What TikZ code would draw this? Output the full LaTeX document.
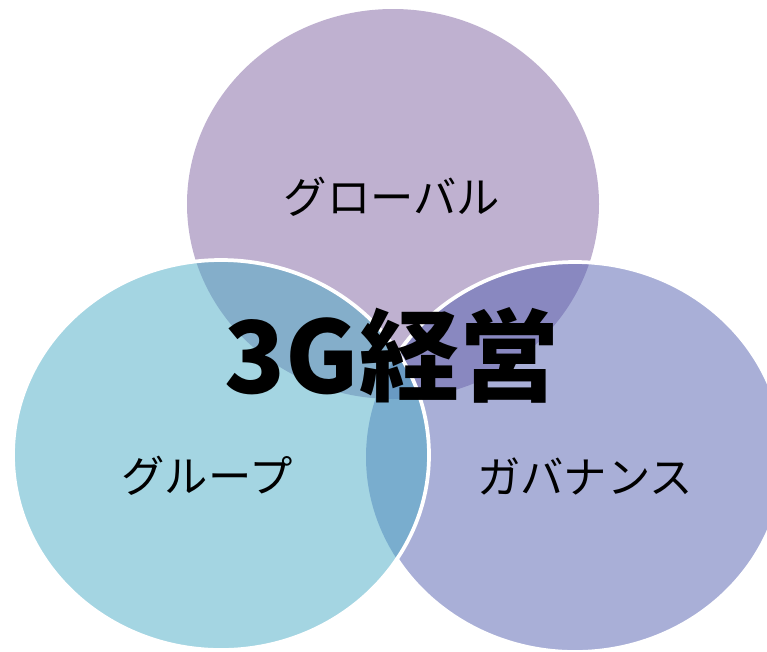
\documentclass[tikz,border=0pt]{standalone}
\usepackage{fontspec}
\newfontfamily\jp{Noto Sans CJK JP}
\definecolor{ctop}{RGB}{128,100,162}
\definecolor{cright}{RGB}{85,97,177}
\definecolor{cleft}{RGB}{75,172,198}
\begin{document}
\begin{tikzpicture}[x=0.75pt,y=-0.75pt,
  lbl/.style={font=\jp\fontsize{32.5}{38}\selectfont, inner sep=0pt},
  ttl/.style={font=\jp\bfseries\fontsize{75}{85}\selectfont, inner sep=0pt},
  half/.style={fill opacity=0.5},
  rim/.style={draw=white, line width=2.8pt}]
\clip (0,0) rectangle (767,651);
\fill[white] (0,0) rectangle (767,651);
\def\topE{(393,204) ellipse [x radius=206, y radius=195]}
\def\rightE{(575,457) ellipse [x radius=209, y radius=195]}
\def\leftE{(221,455) ellipse [x radius=208, y radius=195]}
\fill[ctop, half] \topE;
\fill[cright, half] \rightE;
\draw[rim] \rightE;
\begin{scope}
  \clip \leftE;
  \fill[white] (0,0) rectangle (767,651);
  \fill[ctop, half] \topE;
  \fill[cright, half] \rightE;
\end{scope}
\fill[cleft, half] \leftE;
\draw[rim] \leftE;
\node[lbl] (g1) at (392,197) {グローバル};
\node[lbl] (g2) at (207,476) {グループ};
\node[lbl] (g3) at (585,476) {ガバナンス};
\node[ttl] (t) at (392,355) {3G経営};
\end{tikzpicture}
\end{document}
